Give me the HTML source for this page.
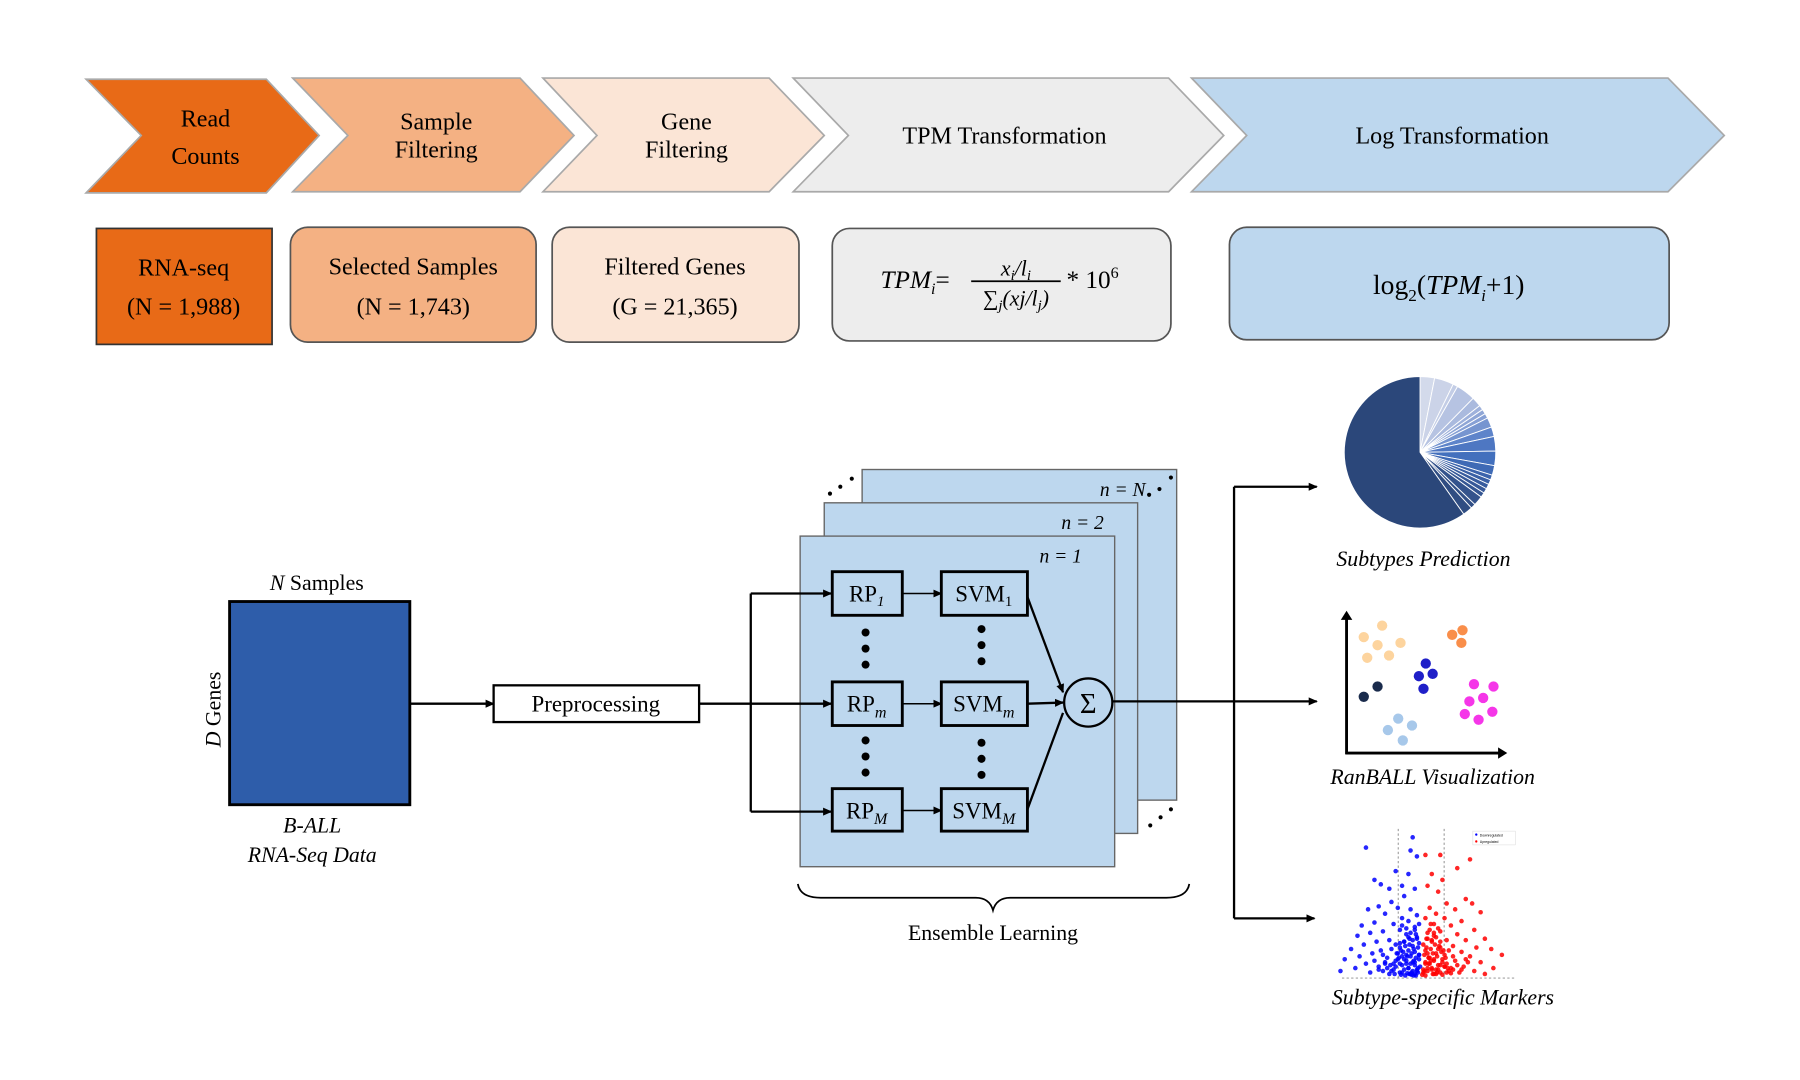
<!DOCTYPE html>
<html><head><meta charset="utf-8"><style>
html,body{margin:0;padding:0;background:#fff;}
svg{display:block;font-family:"Liberation Serif",serif;}
</style></head><body>
<svg id="fig" width="1800" height="1080" viewBox="0 0 1568 940.8" xmlns="http://www.w3.org/2000/svg">
<defs>
<marker id="ah" markerWidth="8" markerHeight="8" refX="7" refY="4" orient="auto" markerUnits="userSpaceOnUse"><path d="M0,0.5 L8,4 L0,7.5 z" fill="#000"/></marker>
</defs>
<g stroke="#a9a9a9" stroke-width="1.5">
<polygon points="75,69 232,69 278,118 232,168 75,168 123,118" fill="#E86A17"/>
<polygon points="255,68 453,68 500,118 453,167 255,167 303,118" fill="#F4B183"/>
<polygon points="473,68 670,68 718,118 670,167 473,167 520,118" fill="#FBE5D6"/>
<polygon points="691,68 1018,68 1066,118 1018,167 691,167 739,118" fill="#EDEDED"/>
<polygon points="1038,68 1453,68 1502,118 1453,167 1038,167 1086,118" fill="#BDD7EE"/>
</g>
<g font-size="21" text-anchor="middle" fill="#000">
<text x="179" y="110">Read</text>
<text x="179" y="143">Counts</text>
<text x="380" y="113">Sample</text>
<text x="380" y="137">Filtering</text>
<text x="598" y="113">Gene</text>
<text x="598" y="137">Filtering</text>
<text x="875" y="125">TPM Transformation</text>
<text x="1265" y="125">Log Transformation</text>
</g>
<g stroke="#555" stroke-width="1.5">
<rect x="84" y="199" width="153" height="101" fill="#E86A17" stroke="#333"/>
<rect x="253" y="198" width="214" height="100" rx="15" fill="#F4B183"/>
<rect x="481" y="198" width="215" height="100" rx="15" fill="#FBE5D6"/>
<rect x="725" y="199" width="295" height="98" rx="15" fill="#EDEDED"/>
<rect x="1071" y="198" width="383" height="98" rx="15" fill="#BDD7EE"/>
</g>
<g font-size="21" text-anchor="middle">
<text x="160" y="240">RNA-seq</text>
<text x="160" y="274">(N = 1,988)</text>
<text x="360" y="239">Selected Samples</text>
<text x="360" y="274">(N = 1,743)</text>
<text x="588" y="239">Filtered Genes</text>
<text x="588" y="274">(G = 21,365)</text>
</g>
<g font-size="22">
<text x="767" y="251" font-style="italic">TPM<tspan font-size="14" dy="5">i</tspan><tspan dy="-5" font-style="normal">=</tspan></text>
<text x="885" y="240" font-size="19" text-anchor="middle" font-style="italic">x<tspan font-size="13" dy="4">i</tspan><tspan dy="-4">/l</tspan><tspan font-size="13" dy="4">i</tspan></text>
<line x1="846" y1="245" x2="924" y2="245" stroke="#000" stroke-width="1.5"/>
<text x="885" y="266" font-size="19" text-anchor="middle" font-style="italic">∑<tspan font-size="13" dy="4">j</tspan><tspan dy="-4">(xj/l</tspan><tspan font-size="13" dy="4">j</tspan><tspan dy="-4">)</tspan></text>
<text x="929" y="251">* 10<tspan font-size="14" dy="-9">6</tspan></text>
</g>
<text x="1262" y="256" font-size="24" text-anchor="middle">log<tspan font-size="15" dy="6">2</tspan><tspan dy="-6">(</tspan><tspan font-style="italic">TPM</tspan><tspan font-size="15" dy="6" font-style="italic">i</tspan><tspan dy="-6">+1)</tspan></text>

<rect x="200" y="524" width="157" height="177" fill="#2E5DAA" stroke="#000" stroke-width="2.5"/>
<text x="276" y="514" font-size="19" text-anchor="middle"><tspan font-style="italic">N</tspan> Samples</text>
<text x="192" y="618" font-size="19" text-anchor="middle" transform="rotate(-90 192 618)"><tspan font-style="italic">D</tspan> Genes</text>
<text x="272" y="725" font-size="19" text-anchor="middle" font-style="italic">B-ALL</text>
<text x="272" y="751" font-size="19" text-anchor="middle" font-style="italic">RNA-Seq Data</text>
<line x1="357" y1="613" x2="430" y2="613" stroke="#000" stroke-width="2" marker-end="url(#ah)"/>
<rect x="430" y="597" width="179" height="32" fill="#fff" stroke="#000" stroke-width="2"/>
<text x="519" y="620" font-size="20" text-anchor="middle">Preprocessing</text>

<rect x="751" y="409" width="274" height="288" fill="#BDD7EE" stroke="#666" stroke-width="1.2"/>
<rect x="718" y="438" width="273" height="288" fill="#BDD7EE" stroke="#666" stroke-width="1.2"/>
<rect x="697" y="467" width="274" height="288" fill="#BDD7EE" stroke="#666" stroke-width="1.2"/>
<g font-size="17" font-style="italic" text-anchor="middle">
<text x="978" y="432">n = N</text>
<text x="943" y="461">n = 2</text>
<text x="924" y="490">n = 1</text>
</g>
<g fill="#000">
<circle cx="723" cy="430" r="1.8"/><circle cx="732" cy="424" r="1.8"/><circle cx="742" cy="417" r="1.8"/>
<circle cx="1001" cy="431" r="1.8"/><circle cx="1010" cy="426" r="1.8"/><circle cx="1020" cy="416" r="1.8"/>
<circle cx="1002" cy="719" r="1.8"/><circle cx="1011" cy="712" r="1.8"/><circle cx="1020" cy="705" r="1.8"/>
<circle cx="754" cy="551" r="3.5"/><circle cx="754" cy="565" r="3.5"/><circle cx="754" cy="579" r="3.5"/>
<circle cx="855" cy="548" r="3.5"/><circle cx="855" cy="562" r="3.5"/><circle cx="855" cy="576" r="3.5"/>
<circle cx="754" cy="645" r="3.5"/><circle cx="754" cy="659" r="3.5"/><circle cx="754" cy="673" r="3.5"/>
<circle cx="855" cy="647" r="3.5"/><circle cx="855" cy="661" r="3.5"/><circle cx="855" cy="675" r="3.5"/>
</g>
<g stroke="#000" stroke-width="2" fill="none">
<polyline points="654,517 654,707"/>
<line x1="609" y1="613" x2="724" y2="613" marker-end="url(#ah)"/>
<line x1="654" y1="517" x2="724" y2="517" marker-end="url(#ah)"/>
<line x1="654" y1="707" x2="724" y2="707" marker-end="url(#ah)"/>
<line x1="786" y1="517" x2="820" y2="517" stroke-width="1.3" marker-end="url(#ah)"/>
<line x1="786" y1="613" x2="820" y2="613" stroke-width="1.3" marker-end="url(#ah)"/>
<line x1="786" y1="706" x2="820" y2="706" stroke-width="1.3" marker-end="url(#ah)"/>
<line x1="895" y1="520" x2="926" y2="603" marker-end="url(#ah)"/>
<line x1="895" y1="613" x2="926" y2="612" marker-end="url(#ah)"/>
<line x1="895" y1="705" x2="926" y2="621"/>
<line x1="969" y1="611" x2="1075" y2="611"/>
<polyline points="1075,424 1075,800"/>
<line x1="1075" y1="424" x2="1147" y2="424" marker-end="url(#ah)"/>
<line x1="1075" y1="611" x2="1147" y2="611" marker-end="url(#ah)"/>
<line x1="1075" y1="800" x2="1145" y2="800" marker-end="url(#ah)"/>
<path d="M695,770 Q697,782 715,782 L850,782 Q862,782 865,793 Q868,782 880,782 L1016,782 Q1034,782 1036,770" stroke-width="1.5"/>
</g>
<g stroke="#000" stroke-width="2.5" fill="none">
<rect x="725" y="498" width="61" height="38"/>
<rect x="725" y="594" width="61" height="38"/>
<rect x="725" y="687" width="61" height="37"/>
<rect x="820" y="498" width="75" height="38"/>
<rect x="820" y="594" width="75" height="38"/>
<rect x="820" y="687" width="75" height="37"/>
<circle cx="948" cy="612" r="21" stroke-width="2"/>
</g>
<g font-size="20" text-anchor="middle">
<text x="755" y="524">RP<tspan font-size="13" dy="4" font-style="italic">1</tspan></text>
<text x="755" y="620">RP<tspan font-size="14" dy="5" font-style="italic">m</tspan></text>
<text x="755" y="713">RP<tspan font-size="14" dy="5" font-style="italic">M</tspan></text>
<text x="857" y="524">SVM<tspan font-size="13" dy="4">1</tspan></text>
<text x="857" y="620">SVM<tspan font-size="14" dy="5" font-style="italic">m</tspan></text>
<text x="857" y="713">SVM<tspan font-size="14" dy="5" font-style="italic">M</tspan></text>
<text x="948" y="621" font-size="25">Σ</text>
<text x="865" y="819" font-size="19">Ensemble Learning</text>
</g>
<g font-size="19" font-style="italic" text-anchor="middle">
<text x="1240" y="493">Subtypes Prediction</text>
<text x="1248" y="683">RanBALL Visualization</text>
<text x="1257" y="875">Subtype-specific Markers</text>
</g>
<g id="pie"></g>
<g id="scatter">
<line x1="1173" y1="657" x2="1173" y2="538" stroke="#000" stroke-width="2.5"/>
<path d="M1168,540 L1173,532 L1178,540 z"/>
<line x1="1172" y1="656" x2="1306" y2="656" stroke="#000" stroke-width="2.5"/>
<path d="M1305,651 L1313,656 L1305,661 z"/>
</g>
<g id="volcano">
<line x1="1169" y1="852" x2="1319" y2="852" stroke="#888" stroke-width="0.8" stroke-dasharray="2,2"/>
<line x1="1218" y1="722" x2="1218" y2="852" stroke="#888" stroke-width="0.8" stroke-dasharray="2,2"/>
<line x1="1258" y1="722" x2="1258" y2="852" stroke="#888" stroke-width="0.8" stroke-dasharray="2,2"/>
<rect x="1283" y="724" width="37" height="12" fill="#fff" stroke="#ddd" stroke-width="0.5"/>
<circle cx="1286" cy="727" r="1" fill="#00f"/><circle cx="1286" cy="733" r="1" fill="#f00"/>
<text x="1289" y="728.5" font-size="3" font-family="Liberation Sans">Downregulated</text>
<text x="1289" y="734.5" font-size="3" font-family="Liberation Sans">Upregulated</text>
</g>
</svg>
<script>
const pieValues=[3,4,1,4,2,1,1,1,2,2,3,3,2,1,1,1,1,1,2,1,2,58];
const pieColors=["#D3DAEB","#CBD3E8","#C3CDE6","#B6C3E2","#AABADE","#9EB1DB","#8FA6D6","#86A0D5","#7695D0","#5E84CA","#4E77C2","#4370BD","#3F6AB5","#3C64AC","#3A60A5","#385C9E","#375998","#355692","#34538C","#325087","#304D82","#2B477A"];
const scatterX=[1188,1204,1200,1220,1210,1191, 1265,1274,1273, 1242,1248,1236,1240, 1188,1200, 1284,1301,1292,1280,1300,1276,1288, 1218,1230,1209,1222];
const scatterY=[555,545,562,560,571,573, 553,549,560, 578,587,589,600, 607,598, 596,598,608,611,620,622,627, 626,632,636,645];
const scatterGroup=[0,0,0,0,0,0,1,1,1,2,2,2,2,3,3,4,4,4,4,4,4,4,5,5,5,5];
const groupColors=["#FDD49E","#F98E4A","#1F1FC8","#1A2B4C","#F536E8","#A7C8EA"];
const downFC=[-0.4,-2.6,-0.5,-0.2,-1.2,-0.6,-2.2,-1.9,-1.5,-0.9,-0.3,-0.8,-1.4,-2.0,-2.5,-1.1,-0.5,-0.2,-1.7,-0.9,-2.8,-2.2,-1.3,-0.6,-0.3,-3.0,-2.4,-1.8,-1.0,-0.7,-0.2,-3.3,-2.7,-2.1,-1.5,-1.2,-0.8,-0.4,-0.1,-3.6,-2.9,-2.3,-1.9,-1.6,-1.1,-0.7,-0.3,-0.1,-3.8,-3.1,-2.6,-2.0,-1.7,-1.3,-1.0,-0.6,-0.4,-0.2,-2.4,-1.5,-0.9,-0.5,-1.2,-0.8,-1.4,-0.5,-1.0,-0.3,-1.8,-2.2,-0.15,-0.35,-0.6,-0.25,-0.45,-0.7,-0.1,-0.55,-0.9,-0.3,
 -0.2,-0.4,-0.6,-0.8,-1.0,-1.2,-1.4,-1.6,-0.3,-0.5,-0.7,-0.9,-1.1,-1.3,-0.1,-0.25,-0.45,-0.65,-0.85,-1.05,-0.15,-0.35,-0.55,-0.75,-0.95,-1.15,-0.2,-0.4,-0.6,-0.8,-1.0,-0.3,-0.5,-0.7,-0.1,-0.9,-1.7,-2.0,-1.8,-0.45,-0.65,-0.25,-1.25,-1.45,-0.05,-0.15,-0.35,-0.55,-0.75,-0.95];
const downP=[9.5,8.8,8.6,8.2,7.2,7.0,6.6,6.3,6.0,6.2,6.0,5.5,5.1,4.8,4.6,4.7,4.6,4.2,4.3,4.0,3.5,3.7,3.6,3.8,3.4,2.8,3.0,3.1,3.2,2.9,2.7,1.9,2.2,2.4,2.5,2.2,2.4,2.1,2.3,1.2,1.4,1.6,1.8,1.3,1.6,1.5,1.7,1.2,0.4,0.6,0.9,0.7,0.9,0.5,0.9,0.6,1.0,0.4,0.3,0.2,0.3,0.2,1.1,1.2,1.9,1.4,2.0,0.8,0.4,1.1,0.6,1.1,1.8,2.9,0.3,0.9,1.5,2.6,1.4,0.2,
 0.5,0.4,0.6,0.5,0.3,0.7,0.4,0.6,1.0,0.9,1.1,0.8,1.2,0.9,1.5,1.3,1.6,1.4,1.7,1.3,2.0,1.9,2.2,2.1,1.8,1.6,2.6,2.5,2.7,2.4,2.3,3.2,3.0,3.3,3.6,3.5,1.0,0.5,1.5,0.15,0.25,0.1,0.2,0.8,0.7,0.3,0.1,0.2,0.1,0.15];
const upFC=[0.2,0.9,2.3,1.7,0.5,1.0,0.3,0.8,2.1,2.4,1.2,0.4,1.6,0.7,2.8,1.1,0.2,1.9,0.6,1.4,2.5,0.9,0.3,1.7,3.0,2.1,1.2,0.5,0.1,1.5,2.6,3.3,0.8,1.9,0.3,1.1,2.3,3.8,0.6,1.6,2.8,0.2,0.9,1.4,2.0,3.4,0.5,1.2,2.5,0.1,0.7,1.8,3.0,0.4,1.0,1.3,0.6,0.2,0.8,1.5,0.3,2.2,0.15,0.45,0.7,0.25,0.55,0.9,0.35,1.1,
 0.1,0.3,0.5,0.7,0.9,1.1,1.3,1.5,0.2,0.4,0.6,0.8,1.0,1.2,0.15,0.35,0.55,0.75,0.95,1.15,0.25,0.45,0.65,0.85,1.05,0.3,0.5,0.7,0.9,0.4,0.6,0.8,1.7,1.9,2.1,0.05,0.2,0.6,1.0,1.4,0.35,0.75,1.25,0.45];
const upP=[8.3,8.3,8.0,7.4,7.0,6.6,6.2,5.8,5.3,5.0,5.0,4.7,4.6,4.3,4.4,4.0,4.0,3.8,3.6,3.5,3.2,3.1,3.0,2.9,2.6,2.5,2.5,2.4,2.2,2.1,2.0,1.9,1.9,1.7,1.6,1.5,1.4,1.5,1.2,1.1,1.0,0.9,0.8,0.6,0.7,0.6,0.5,0.3,0.4,0.3,0.2,0.3,0.2,1.3,1.0,1.8,2.8,1.8,0.5,1.4,0.6,1.0,0.4,1.1,1.6,2.6,0.2,2.0,1.3,0.7,
 0.5,0.4,0.6,0.5,0.3,0.7,0.4,0.5,1.0,0.9,1.1,0.8,1.2,0.9,1.5,1.3,1.6,1.4,1.7,1.3,2.0,1.9,2.2,2.1,1.8,2.6,2.5,2.7,2.4,3.2,3.0,3.3,0.8,0.5,1.2,0.15,0.1,0.2,0.15,0.25,0.9,0.3,0.6,3.6];

const NS="http://www.w3.org/2000/svg";
(function(){
  const g=document.getElementById('pie');
  const cx=1237,cy=394,rx=66,ry=66;
  const tot=pieValues.reduce((a,b)=>a+b,0);
  let a0=0;
  pieValues.forEach((v,i)=>{
    const a1=a0+v/tot*2*Math.PI;
    const x0=cx+rx*Math.sin(a0),y0=cy-ry*Math.cos(a0);
    const x1=cx+rx*Math.sin(a1),y1=cy-ry*Math.cos(a1);
    const p=document.createElementNS(NS,'path');
    p.setAttribute('d',`M${cx},${cy} L${x0},${y0} A${rx},${ry} 0 ${(a1-a0)>Math.PI?1:0} 1 ${x1},${y1} Z`);
    p.setAttribute('fill',pieColors[i]);
    p.setAttribute('stroke','#fff');
    p.setAttribute('stroke-width','0.8');
    
    
    g.appendChild(p);
    a0=a1;
  });
})();
(function(){
  const g=document.getElementById('scatter');
  scatterX.forEach((x,i)=>{
    const c=document.createElementNS(NS,'circle');
    c.setAttribute('cx',x);c.setAttribute('cy',scatterY[i]);c.setAttribute('r','4.5');
    c.setAttribute('fill',groupColors[scatterGroup[i]]);
    
    
    g.appendChild(c);
  });
})();
(function(){
  const g=document.getElementById('volcano');
  const xs=v=>1238+v*18.5, ys=v=>851-v*12.8;
  function draw(fc,p,col){
    fc.forEach((f,i)=>{
      const c=document.createElementNS(NS,'circle');
      c.setAttribute('cx',xs(f));c.setAttribute('cy',ys(p[i]));c.setAttribute('r','2');
      c.setAttribute('fill',col);c.setAttribute('fill-opacity','0.85');
      
      
      g.appendChild(c);
    });
  }
  draw(downFC,downP,'#0000ff');
  draw(upFC,upP,'#ff0000');
})();
</script>
</body></html>
